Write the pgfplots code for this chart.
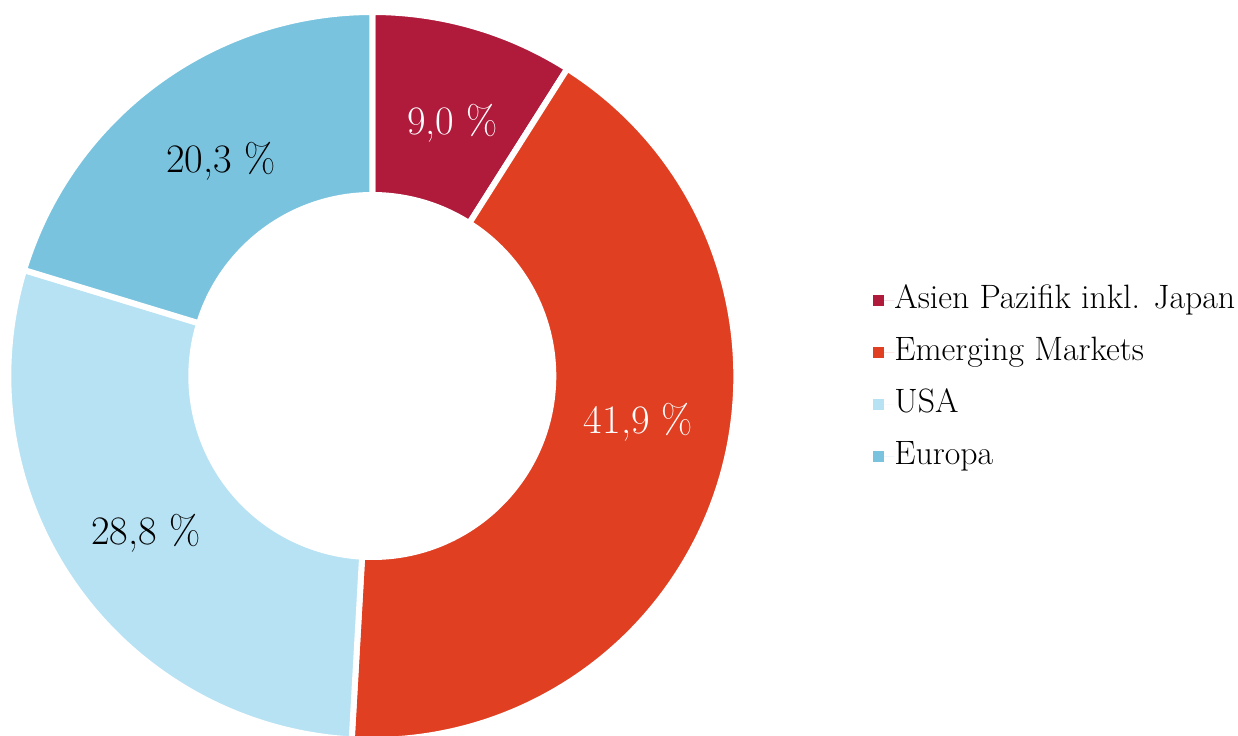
\documentclass[border=0pt]{standalone}
\usepackage{pgfplots}
\usepackage{pgfplotstable}
\pgfplotsset{compat=1.18}
\usetikzlibrary{calc}

\definecolor{asien}{RGB}{176,26,59}
\definecolor{emerging}{RGB}{224,63,34}
\definecolor{usa}{RGB}{182,226,244}
\definecolor{europa}{RGB}{122,195,223}

% Anteile in Prozent, im Uhrzeigersinn ab 12 Uhr
\pgfplotstableread{
region   share
Asien    9.0
Emerging 41.9
USA      28.8
Europa   20.3
}\shares

% ring segment: start angle, end angle, colour
\newcommand\ring[3]{%
  \filldraw[fill=#3, draw=white, line width=3pt]
    ($(C)+(#1:182pt)$) arc[start angle=#1, end angle=#2, radius=182pt]
    -- ($(C)+(#2:90.5pt)$) arc[start angle=#2, end angle=#1, radius=90.5pt]
    -- cycle;}

\begin{document}
\begin{tikzpicture}
\pgfmathsetmacro\aA{90}
\pgfplotstablegetelem{0}{share}\of\shares
\pgfmathsetmacro\aB{\aA-3.6*\pgfplotsretval}
\pgfplotstablegetelem{1}{share}\of\shares
\pgfmathsetmacro\aC{\aB-3.6*\pgfplotsretval}
\pgfplotstablegetelem{2}{share}\of\shares
\pgfmathsetmacro\aD{\aC-3.6*\pgfplotsretval}
\pgfplotstablegetelem{3}{share}\of\shares
\pgfmathsetmacro\aE{\aD-3.6*\pgfplotsretval}
\begin{axis}[
  width=619pt, height=367.5pt, scale only axis,
  xmin=0, xmax=1238, ymin=0, ymax=735,
  hide axis, clip=true,
  legend style={at={(axis cs:873,451)}, anchor=north west,
    draw=none, fill=none, inner sep=0pt,
    font=\fontsize{16.9}{20}\selectfont, row sep=10pt,
    nodes={inner sep=0pt, text height=12pt, text depth=4pt}},
  legend cell align=left,
  legend image code/.code={
    \fill[#1, draw=none] (0pt,-2.6pt) rectangle (5.5pt,2.6pt);
    \path[draw=none] (0pt,0pt) -- (10.5pt,0pt);},
]
\coordinate (BL) at (axis cs:0,0);
\coordinate (TR) at (axis cs:1238,735);
\coordinate (C) at (axis cs:372.3,359);
\ring{\aA}{\aB}{asien}
\ring{\aB}{\aC}{emerging}
\ring{\aC}{\aD}{usa}
\ring{\aD}{\aE}{europa}

\node[anchor=base, text=white, font=\fontsize{20.2}{24}\selectfont] at (axis cs:452.5,600) {9,0 \%};
\node[anchor=base, text=white, font=\fontsize{20.2}{24}\selectfont] at (axis cs:638.5,301) {41,9 \%};
\node[anchor=base, font=\fontsize{20.2}{24}\selectfont] at (axis cs:146,191) {28,8 \%};
\node[anchor=base, font=\fontsize{20.2}{24}\selectfont] at (axis cs:221,562) {20,3 \%};

\addlegendimage{fill=asien}
\addlegendentry{Asien Pazifik inkl. Japan}
\addlegendimage{fill=emerging}
\addlegendentry{Emerging Markets}
\addlegendimage{fill=usa}
\addlegendentry{USA}
\addlegendimage{fill=europa}
\addlegendentry{Europa}
\end{axis}
\pgfresetboundingbox
\path[use as bounding box] (BL) rectangle (TR);
\end{tikzpicture}
\end{document}
